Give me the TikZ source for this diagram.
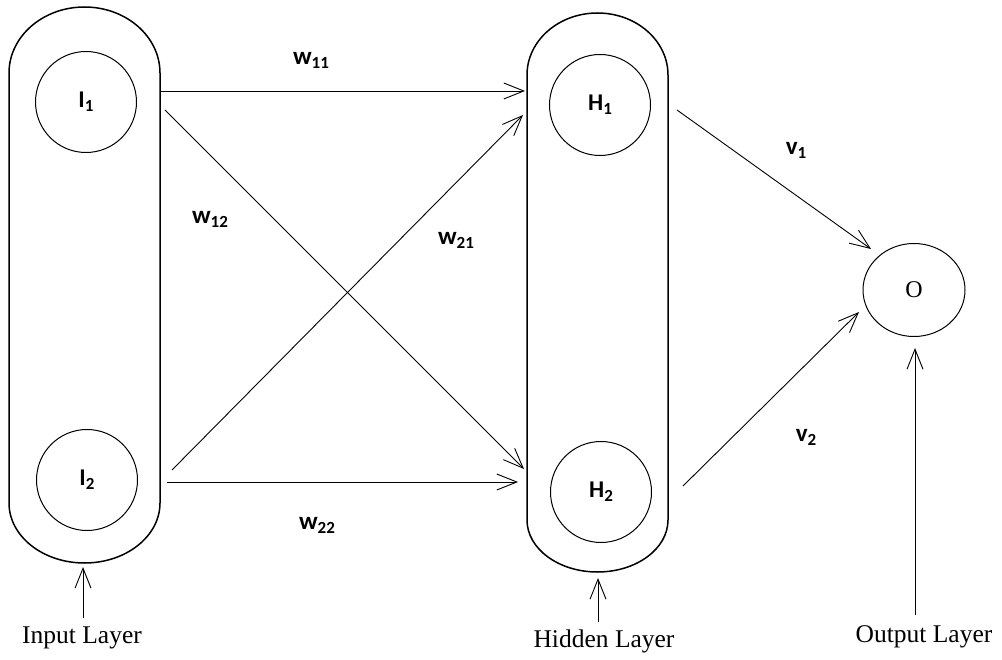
\documentclass[tikz,border=0pt]{standalone}
\usepackage{fontspec}
\setmainfont{Liberation Serif}
\newfontfamily\carl{Carlito}
\usetikzlibrary{arrows.meta,shapes.geometric}
\newcommand\sbs[1]{\raisebox{-4pt}{\fontsize{17}{17}\selectfont #1}}
\begin{document}
\begin{tikzpicture}[x=1pt,y=-1pt,
  capsule/.style={line width=1.5pt},
  neuron/.style={draw, circle, line width=1pt, inner sep=0pt, minimum size=101pt,
    font=\carl\bfseries\fontsize{24}{24}\selectfont},
  outnode/.style={draw, ellipse, line width=1pt, inner sep=0pt, minimum width=102pt,
    minimum height=93pt, font=\fontsize{24}{24}\selectfont},
  conn/.style={line width=0.9pt, -{Straight Barb[length=20pt,width=16pt,line width=0.9pt]}},
  wlab/.style={inner sep=0pt, font=\carl\bfseries\fontsize{25}{25}\selectfont},
  layer/.style={inner sep=0pt, font=\fontsize{25.5}{26}\selectfont}]
\useasboundingbox (0,0) rectangle (1002,660);
\fill[white] (0,0) rectangle (1002,660);

% capsules
\draw[capsule] (9,73) -- (9,503) arc[start angle=180,end angle=0,x radius=75.5,y radius=60]
  -- (160,73) arc[start angle=0,end angle=-180,x radius=75.5,y radius=66] -- cycle;
\draw[capsule] (527,75) -- (527,520) arc[start angle=180,end angle=0,x radius=70.5,y radius=52]
  -- (668,75) arc[start angle=0,end angle=-180,x radius=70.5,y radius=62] -- cycle;

% neurons
\node[neuron] (I1) at (86,102) {I\sbs{1}};
\node[neuron] (I2) at (87,480) {I\sbs{2}};
\node[neuron] (H1) at (600,105) {H\sbs{1}};
\node[neuron] (H2) at (601,492) {H\sbs{2}};
\node[outnode] (O) at (914,290) {O};

% connector end points
\coordinate (a11) at (160,91);  \coordinate (b11) at (525,91);
\coordinate (a12) at (165,110); \coordinate (b12) at (524,469);
\coordinate (a21) at (172,470); \coordinate (b21) at (523,115);
\coordinate (a22) at (167,482); \coordinate (b22) at (518,482);
\coordinate (c1) at (677,110);  \coordinate (d1) at (871,249);
\coordinate (c2) at (683,486);  \coordinate (d2) at (859,312);
\coordinate (inA) at (83,618);  \coordinate (inB) at (83,567);
\coordinate (hdA) at (598,622); \coordinate (hdB) at (598,578);
\coordinate (otA) at (915,615); \coordinate (otB) at (915,348);

\draw[conn] (a11) -- (b11);
\draw[conn] (a12) -- (b12);
\draw[conn] (a21) -- (b21);
\draw[conn] (a22) -- (b22);
\draw[conn] (c1) -- (d1);
\draw[conn] (c2) -- (d2);
\draw[conn] (inA) -- (inB);
\draw[conn] (hdA) -- (hdB);
\draw[conn] (otA) -- (otB);

% weight labels
\node[wlab] (w11) at (311,60) {w\sbs{11}};
\node[wlab] (w12) at (210,219) {w\sbs{12}};
\node[wlab] (w21) at (456,240) {w\sbs{21}};
\node[wlab] (w22) at (317,525) {w\sbs{22}};
\node[wlab] (v1) at (796,150) {v\sbs{1}};
\node[wlab] (v2) at (806,437) {v\sbs{2}};

% layer labels
\node[layer] (LI) at (82,638) {Input Layer};
\node[layer] (LH) at (604,641) {Hidden Layer};
\node[layer] (LO) at (924,637) {Output Layer};
\end{tikzpicture}
\end{document}
